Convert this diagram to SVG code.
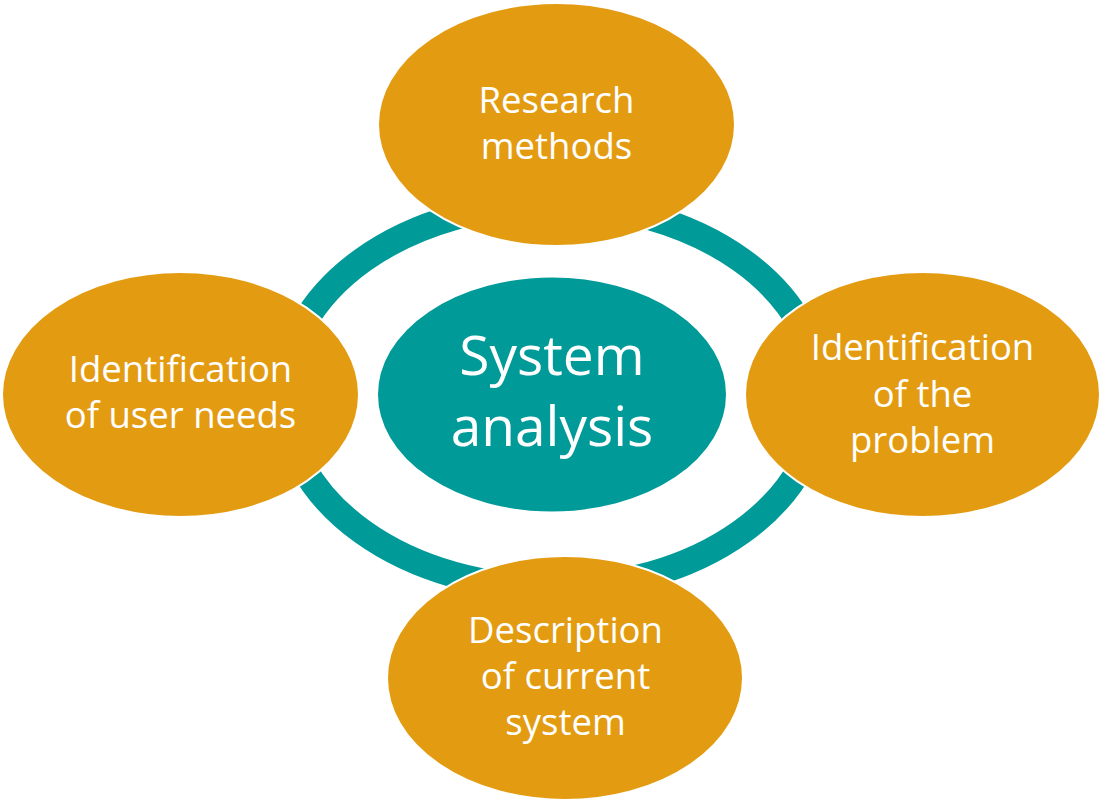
<svg xmlns="http://www.w3.org/2000/svg" width="1103" height="802" viewBox="0 0 1103 802">
<style>
.ring{fill:none;stroke:#009A98;stroke-width:26}
.outer{fill:#E39C12;stroke:#FFFFFF;stroke-width:2}
.core{fill:#009A98;stroke:#FFFFFF;stroke-width:2}
.lbl{font-family:"Open Sans","Noto Sans",sans-serif;fill:#FFFFFF;text-anchor:middle;font-size:36.5px}
.big{font-size:55px}
</style>
<rect width="1103" height="802" fill="#FFFFFF"/>
<g id="connectors">
<ellipse class="ring" cx="552" cy="396" rx="268" ry="192"/>
</g>
<g id="node-center">
<ellipse class="core" cx="552" cy="394.5" rx="175" ry="118"/>
<text class="lbl big" x="552" y="375">System</text>
<text class="lbl big" x="552" y="446">analysis</text>
</g>
<g id="node-top">
<ellipse class="outer" cx="556.5" cy="124.5" rx="178.5" ry="121.5"/>
<text class="lbl" x="556.5" y="113">Research</text>
<text class="lbl" x="556.5" y="159">methods</text>
</g>
<g id="node-left">
<ellipse class="outer" cx="180.5" cy="394.5" rx="178.5" ry="122.5"/>
<text class="lbl" x="180.5" y="382">Identification</text>
<text class="lbl" x="180.5" y="428">of user needs</text>
</g>
<g id="node-right">
<ellipse class="outer" cx="922.5" cy="394.5" rx="177.5" ry="122.5"/>
<text class="lbl" x="922.5" y="360">Identification</text>
<text class="lbl" x="922.5" y="406.5">of the</text>
<text class="lbl" x="922.5" y="453">problem</text>
</g>
<g id="node-bottom">
<ellipse class="outer" cx="565" cy="678" rx="178" ry="122"/>
<text class="lbl" x="565.5" y="643">Description</text>
<text class="lbl" x="565.5" y="689">of current</text>
<text class="lbl" x="565.5" y="735">system</text>
</g>
</svg>
